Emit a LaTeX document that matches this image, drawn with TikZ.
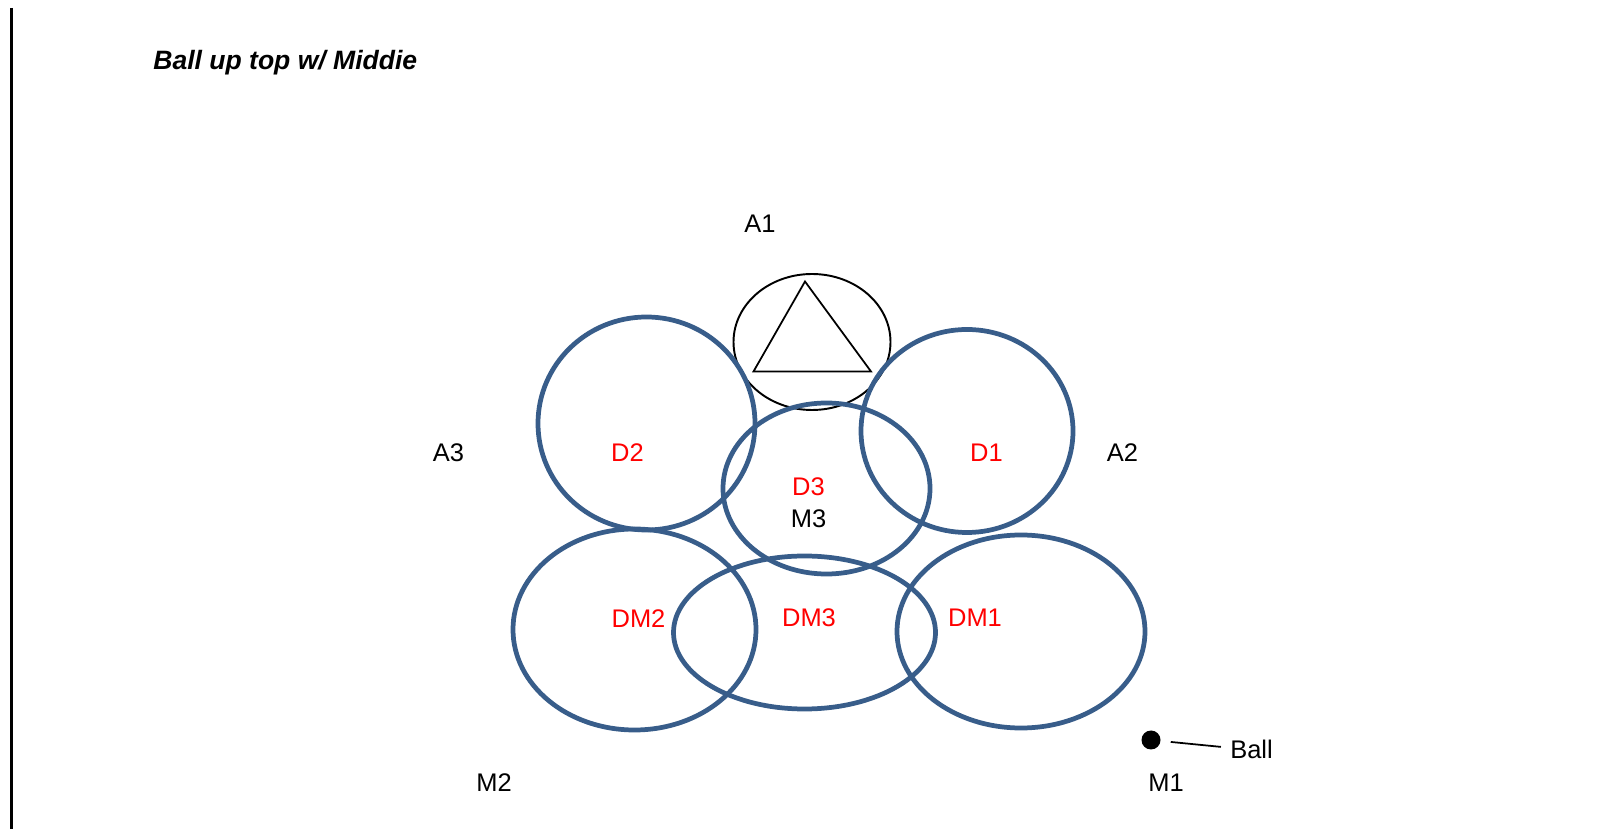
\documentclass[tikz,border=0pt]{standalone}
\usepackage{fontspec}
\setmainfont{Liberation Sans}
\definecolor{zoneblue}{HTML}{385D8A}
\definecolor{defred}{HTML}{FF0000}
\tikzset{zone/.style = {draw=zoneblue, line width=2.7pt},
         lbl/.style = {inner sep=0pt, anchor=base, font=\fontsize{14.5pt}{17pt}\selectfont},
         deflbl/.style = {lbl, text=defred}}
\usetikzlibrary{calc}

\begin{document}
\begin{tikzpicture}
  	\useasboundingbox (0,0) rectangle (32.26,-16.58);
  	\draw[line width=1.9pt] (0.23,-0.16) -- (0.23,-16.58);
  	\node[lbl, anchor=base west, font=\fontsize{15.1pt}{18pt}\selectfont\bfseries\itshape] (title) at (3.06,-1.40) {Ball up top w/ Middie};
  	\draw[line width=1.1pt] (16.24,-6.84) ellipse [x radius=1.57, y radius=1.36];
    \draw[line width=1pt] (16.10,-5.63) -- (17.42,-7.43) -- (15.07,-7.43) -- cycle;
    \draw[zone] (12.93,-8.47) ellipse [x radius=2.17, y radius=2.13];
    \draw[zone] (19.34,-8.62) ellipse [x radius=2.12, y radius=2.03];
    \draw[zone] (16.53,-9.77) ellipse [x radius=2.07, y radius=1.71];
    \draw[zone] (12.69,-12.59) ellipse [x radius=2.43, y radius=2.01];
    \draw[zone] (16.09,-12.65) ellipse [x radius=2.62, y radius=1.53];
    \draw[zone] (20.42,-12.63) ellipse [x radius=2.48, y radius=1.93];
    \node[lbl] (a1) at (15.20,-4.65) {A1};
    \node[lbl] (a2) at (22.45,-9.24) {A2};
    \node[lbl] (a3) at (8.97,-9.24) {A3};
    \node[deflbl] (d1) at (19.73,-9.24) {D1};
    \node[deflbl] (d2) at (12.55,-9.24) {D2};
    \node[deflbl] (d3) at (16.17,-9.92) {D3};
    \node[lbl] (m3) at (16.17,-10.55) {M3};
    \node[deflbl] (dm1) at (19.50,-12.54) {DM1};
    \node[deflbl] (dm2) at (12.77,-12.55) {DM2};
    \node[deflbl] (dm3) at (16.18,-12.53) {DM3};
    \node[lbl] (m1) at (23.32,-15.83) {M1};
    \node[lbl] (m2) at (9.88,-15.84) {M2};
    \node[circle, fill=black, inner sep=0pt, minimum size=0.38cm] (ball) at (23.02,-14.80) {};
    \node[lbl] (balllbl) at (25.03,-15.18) {Ball};
    \draw[line width=1pt, shorten <=2mm, shorten >=1.8mm] (ball) -- (balllbl);
  \end{tikzpicture}
\end{document}
